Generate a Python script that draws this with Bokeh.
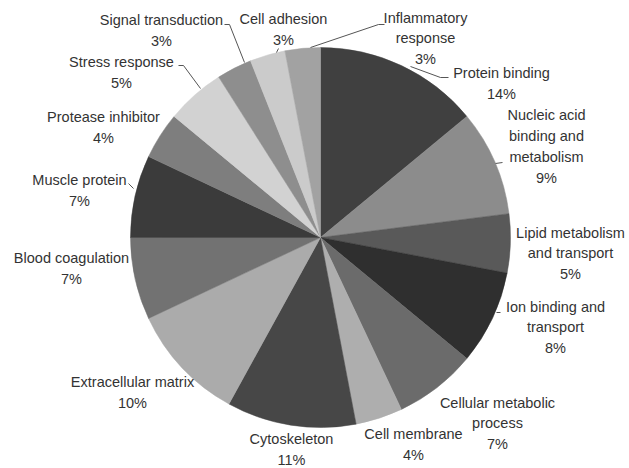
import math
from bokeh.plotting import figure
from bokeh.models import Range1d, ColumnDataSource
from bokeh.core.properties import value
from bokeh.embed import file_html
from bokeh.resources import INLINE

# ---- data ----
categories = ["Protein binding", "Nucleic acid\nbinding and\nmetabolism",
              "Lipid metabolism\nand transport", "Ion binding and\ntransport",
              "Cellular metabolic\nprocess", "Cell membrane", "Cytoskeleton",
              "Extracellular matrix", "Blood coagulation", "Muscle protein",
              "Protease inhibitor", "Stress response", "Signal transduction",
              "Cell adhesion", "Inflammatory\nresponse"]
percents = [14, 9, 5, 8, 7, 4, 11, 10, 7, 7, 4, 5, 3, 3, 3]

# ---- style / layout ----
colors = ["#404040", "#8c8c8c", "#595959", "#2f2f2f", "#6b6b6b", "#aeaeae",
          "#474747", "#ababab", "#727272", "#3b3b3b", "#7e7e7e", "#d2d2d2",
          "#8e8e8e", "#cbcbcb", "#a2a2a2"]
W, H = 629, 468
cx, cy, R = 320, 237, 190
label_pos = [(501, 83), (546, 146), (570, 253), (555, 327), (497, 423),
             (413, 444), (291, 449), (132, 392), (71, 268), (79, 190),
             (103, 127), (121, 72), (161, 30), (283, 29), (425, 38)]
leaders = [[(448, 77), (440, 77), (410, 66)],
           [(502, 162), (495, 163)],
           [(500, 312), (496, 312)],
           [(128, 183), (133, 188)],
           [(178, 65), (183, 65), (200, 88)],
           [(224, 24), (229, 24), (244, 62)],
           [(278, 48), (276, 52)],
           [(384, 24), (378, 24), (310, 47)]]

total = float(sum(percents))
starts, ends = [], []
acc = 0.0
for v in percents:
    a0 = math.pi / 2 - 2 * math.pi * acc / total
    acc += v
    a1 = math.pi / 2 - 2 * math.pi * acc / total
    starts.append(a0)
    ends.append(a1)

p = figure(width=W, height=H, output_backend="svg", toolbar_location=None,
           x_range=Range1d(0, W), y_range=Range1d(0, H), min_border=0)
p.axis.visible = False
p.grid.visible = False
p.outline_line_color = None
p.background_fill_color = "white"

src = ColumnDataSource(dict(start=starts, end=ends, color=colors))
p.wedge(x=cx, y=H - cy, radius=R, start_angle="start", end_angle="end",
        direction="clock", fill_color="color", line_color="color",
        line_width=0.5, source=src)

for seg in leaders:
    p.line([q[0] for q in seg], [H - q[1] for q in seg],
           line_color="#555555", line_width=1)

texts = [f"{c}\n{v}%" for c, v in zip(categories, percents)]
lsrc = ColumnDataSource(dict(x=[q[0] for q in label_pos],
                             y=[H - q[1] for q in label_pos], t=texts))
p.text(x="x", y="y", text="t", source=lsrc, text_align="center",
       text_baseline="middle", text_font=value("Liberation Sans"),
       text_font_size="14.5px", text_color="#333333", text_line_height=1.3)

open("out.html", "w").write(file_html(p, INLINE))
